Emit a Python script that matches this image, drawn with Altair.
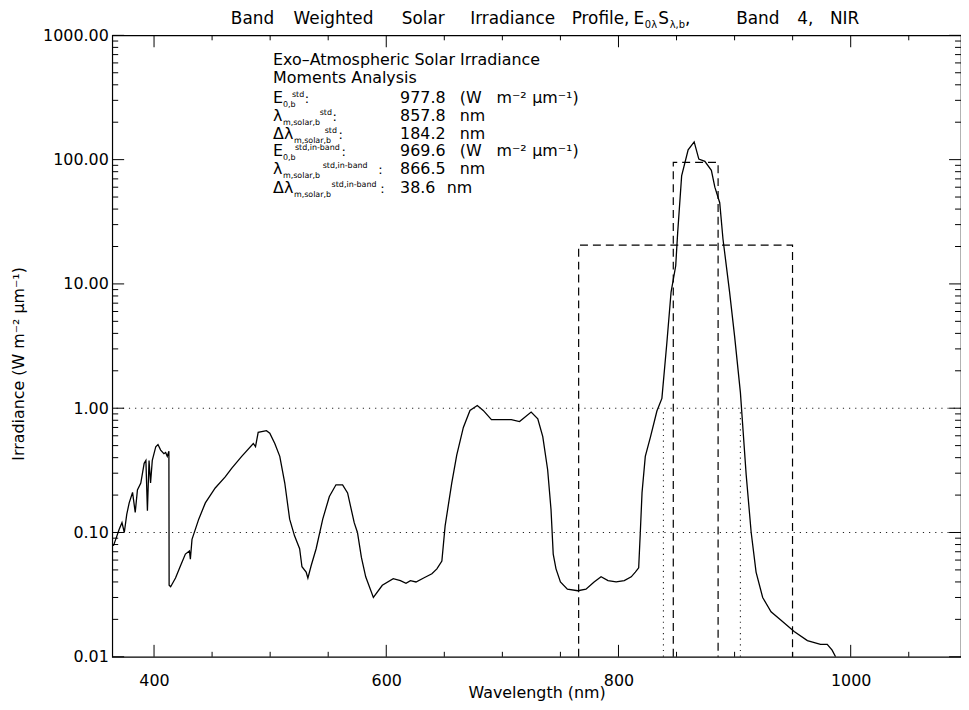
import altair as alt
import pandas as pd

# ---------------- data ----------------
wavelength_nm = [
    365, 367, 370, 372.4, 374.4, 376.5, 378.6, 381.5, 383.8, 385.7, 388.6, 391.5, 393, 394.3,
    395.7, 397, 398.5, 401.5, 403.4, 405.7, 408.5, 410, 411.4, 412.8, 413, 414.3, 418.5, 422.8,
    427, 430.5, 431.3, 432.7, 438.5, 444.2, 452.7, 461.3, 467, 475.5, 485.5, 487.4, 489.7, 496.8,
    499.7, 504, 508.3, 512.6, 516.8, 521, 525.4, 527.4, 531, 532.5, 535.3, 539.6, 545.3, 551,
    556.7, 562.4, 566.7, 572.4, 575.2, 578.6, 582.3, 588.9, 596.6, 606, 612.2, 617, 620.8, 625.6,
    632.2, 639.3, 643.6, 647.9, 650.7, 656.4, 660.7, 666.4, 672.1, 678.4, 683.5, 690.6, 700.6,
    707.7, 714.8, 724.8, 730.5, 734.8, 739, 741.9, 743.8, 746.2, 750, 756, 765, 772, 779, 785,
    791, 798, 805, 811, 814.5, 817.4, 818.8, 820.3, 823.1, 827.4, 833.1, 837.4, 841.6, 845.3,
    849.3, 851, 854.4, 860, 865.2, 869.2, 874.4, 880, 883, 887.2, 890, 895.7, 900, 905, 910,
    914.3, 918.5, 924.2, 931.4, 940, 951.3, 962.7, 974, 979.8, 984, 987,
]
irradiance = [
    0.078, 0.088, 0.106, 0.12, 0.10, 0.14, 0.173, 0.21, 0.145, 0.22, 0.25, 0.36, 0.38, 0.15,
    0.38, 0.25, 0.38, 0.49, 0.51, 0.46, 0.43, 0.44, 0.41, 0.45, 0.0376, 0.0366, 0.043, 0.054,
    0.067, 0.071, 0.061, 0.088, 0.128, 0.173, 0.228, 0.28, 0.33, 0.41, 0.52, 0.49, 0.64, 0.66,
    0.63, 0.52, 0.41, 0.25, 0.128, 0.094, 0.074, 0.053, 0.048, 0.043, 0.054, 0.074, 0.128, 0.195,
    0.242, 0.242, 0.208, 0.12, 0.10, 0.063, 0.044, 0.030, 0.0376, 0.0425, 0.041, 0.039, 0.041, 0.040,
    0.043, 0.0466, 0.051, 0.059, 0.113, 0.25, 0.42, 0.70, 0.96, 1.05, 0.96, 0.81, 0.81,
    0.81, 0.78, 0.93, 0.82, 0.59, 0.32, 0.153, 0.067, 0.051, 0.040, 0.035, 0.034, 0.035, 0.040, 0.044,
    0.041, 0.040, 0.041, 0.044, 0.048, 0.052, 0.10, 0.21, 0.41, 0.58, 0.95, 1.2, 3.3, 8.6,
    14, 26, 74, 120, 139, 101, 97, 82, 60, 45, 23, 8.6, 3.8, 1.34, 0.29,
    0.10, 0.048, 0.030, 0.023, 0.0197, 0.016, 0.0135, 0.0126, 0.0126, 0.0113, 0.0100,
]

# moments analysis (centre and width of the dashed boxes) and box tops
lambda_m = [857.8, 866.5]
delta_lambda = [184.2, 38.6]
box_top = [20.5, 95.0]
crossing_nm = [838.7, 905.0]     # dotted verticals (1 % level crossings)
crossing_level = 1.0
reference_levels = [1.0, 0.1]    # dotted horizontals

moment_numbers = ["977.8", "857.8", "184.2", "969.6", "866.5", "38.6"]
moment_units = ["irr", "nm", "nm", "irr", "nm", "nm"]

x_major = [400, 600, 800, 1000]
x_minor = [450, 500, 550, 650, 700, 750, 850, 900, 950, 1050]
y_major = [0.01, 0.1, 1, 10, 100, 1000]
y_minor = [m * 10.0 ** k for k in range(-2, 3) for m in range(2, 10)]

# ---------------- layout ----------------
FONT = "DejaVu Sans"
W, H = 855, 626
X0, Y0 = 113, 33          # plot origin in page pixels
Y_FLOOR = 0.01

xs = alt.Scale(domain=[364, 1095], nice=False, zero=False)
ys = alt.Scale(type="log", domain=[0.01, 1000], nice=False)
xaxis = alt.Axis(values=x_major, format="d", ticks=False, domain=False, grid=False,
                 labelFont=FONT, labelFontSize=16, labelColor="black", labelPadding=16,
                 title=None, labelFlush=False)
yaxis = alt.Axis(values=y_major, format=".2f", ticks=False, domain=False, grid=False,
                 labelFont=FONT, labelFontSize=16, labelColor="black", labelPadding=4,
                 title=None, labelOverlap=False)


def X(field):
    return alt.X(field, scale=xs, axis=xaxis)


def Y(field):
    return alt.Y(field, scale=ys, axis=yaxis)


spec = pd.DataFrame({"wl": wavelength_nm, "irr": irradiance, "i": list(range(len(wavelength_nm)))})

curve = alt.Chart(spec).mark_line(color="black", strokeWidth=1.3, clip=True).encode(
    x=X("wl:Q"), y=Y("irr:Q"), order="i:Q",
)

# dashed boxes
rows = []
for b, (c, w, t) in enumerate(zip(lambda_m, delta_lambda, box_top)):
    lo, hi = c - w / 2, c + w / 2
    for j, (xv, yv) in enumerate([(lo, Y_FLOOR), (lo, t), (hi, t), (hi, Y_FLOOR)]):
        rows.append({"box": b, "seq": j, "wl": xv, "irr": yv})
boxes = alt.Chart(pd.DataFrame(rows)).mark_line(color="black", strokeWidth=1.2,
                                                strokeDash=[8, 5]).encode(
    x=X("wl:Q"), y=Y("irr:Q"), detail="box:N", order="seq:Q",
)

dots_v = alt.Chart(pd.DataFrame({"wl": crossing_nm, "lo": [Y_FLOOR] * len(crossing_nm),
                                 "hi": [crossing_level] * len(crossing_nm)})).mark_rule(
    color="#222", strokeWidth=1.1, strokeDash=[1.2, 4.5]).encode(
    x=X("wl:Q"), y=Y("lo:Q"), y2="hi:Q",
)

dots_h = alt.Chart(pd.DataFrame({"lvl": reference_levels})).mark_rule(
    color="#222", strokeWidth=1.1, strokeDash=[1.2, 5]).encode(
    y=Y("lvl:Q"),
)


def xticks(vals, length):
    base = alt.Chart(pd.DataFrame({"v": vals})).mark_rule(color="black", strokeWidth=1)
    return [base.encode(x=X("v:Q"), y=alt.value(H), y2=alt.value(H - length)),
            base.encode(x=X("v:Q"), y=alt.value(0), y2=alt.value(length))]


def yticks(vals, length):
    base = alt.Chart(pd.DataFrame({"v": vals})).mark_rule(color="black", strokeWidth=1)
    return [base.encode(y=Y("v:Q"), x=alt.value(0), x2=alt.value(length)),
            base.encode(y=Y("v:Q"), x=alt.value(W), x2=alt.value(W - length))]


def txt(s, px, py, size=16, align="left", angle=0, baseline="alphabetic"):
    return alt.Chart(pd.DataFrame({"t": [s]})).mark_text(
        font=FONT, fontSize=size, color="black", align=align, baseline=baseline, angle=angle
    ).encode(x=alt.value(px - X0), y=alt.value(py - Y0), text="t:N")


texts = []
# title
TS, TB = 17, 22
for word, px in [("Band", 232.5), ("Weighted", 295.7), ("Solar", 404.7), ("Irradiance", 473.6)]:
    texts.append(txt(word, px, TB, TS))
texts.append(txt("Profile,", 634, TB, TS, align="right"))
texts.append(txt("E", 638, TB, TS))
texts.append(txt("0\u03bb", 649.5, TB + 4, 10))
texts.append(txt("S", 663, TB, TS))
texts.append(txt("\u03bb,b", 674.5, TB + 4, 10))
texts.append(txt(",", 690, TB, TS))
texts.append(txt("Band", 741.5, TB, TS))
texts.append(txt("4,", 803, TB, TS))
texts.append(txt("NIR", 836, TB, TS))

# axis titles
texts.append(txt("Wavelength (nm)", 541, 701, 16, align="center"))
texts.append(txt("Irradiance (W m\u207b\u00b2 \u03bcm\u207b\u00b9)", 19, 364, 16, align="center",
                 angle=270, baseline="middle"))

# annotation block
texts.append(txt("Exo\u2013Atmospheric Solar Irradiance", 275, 63, 16))
texts.append(txt("Moments Analysis", 275, 81.5, 16))
S = 8
lines = [
    # base, base_x, sub, sub_x, sup, sup_x, colon_x, baseline
    ("E", 275, "0,b", 285, "std", 294, 307, 101),
    ("\u03bb", 275, "m,solar,b", 285, "std", 322, 335, 119),
    ("\u0394\u03bb", 275, "m,solar,b", 296, "std", 327, 341, 137.3),
    ("E", 275, "0,b", 285, "std,in-band", 297, 344, 155),
    ("\u03bb", 275, "m,solar,b", 285, "std,in-band", 325, 381, 173),
    ("\u0394\u03bb", 275, "m,solar,b", 296, "std,in-band", 334, 383, 191.7),
]
for (base, bx, sub, sx, sup, ux, cx, bl), num, unit in zip(lines, moment_numbers, moment_units):
    texts.append(txt(base, bx, bl, 16))
    texts.append(txt(sub, sx, bl + 4, S))
    texts.append(txt(sup, ux, bl - 6, S))
    texts.append(txt(":", cx, bl, 13))
    texts.append(txt(num, 403, bl, 16))
    if unit == "irr":
        texts.append(txt("(W", 463, bl, 16))
        texts.append(txt("m\u207b\u00b2", 500, bl, 16))
        texts.append(txt("\u03bcm\u207b\u00b9)", 536, bl, 16))
    else:
        texts.append(txt("nm", 463 if len(num) > 4 else 450, bl, 16))

layers = [curve, dots_h, dots_v, boxes]
layers += xticks(x_major, 12) + xticks(x_minor, 5)
layers += yticks(y_major, 12) + yticks(y_minor, 6)
layers += texts

chart = alt.layer(*layers).properties(
    width=W, height=H,
    autosize=alt.AutoSizeParams(type="none"),
    padding={"left": 105, "top": 25, "right": 0, "bottom": 42},
    background="white",
).configure_view(stroke="black", strokeWidth=1.2)

chart.save("out.html", embed_options={"renderer": "svg", "actions": False})
